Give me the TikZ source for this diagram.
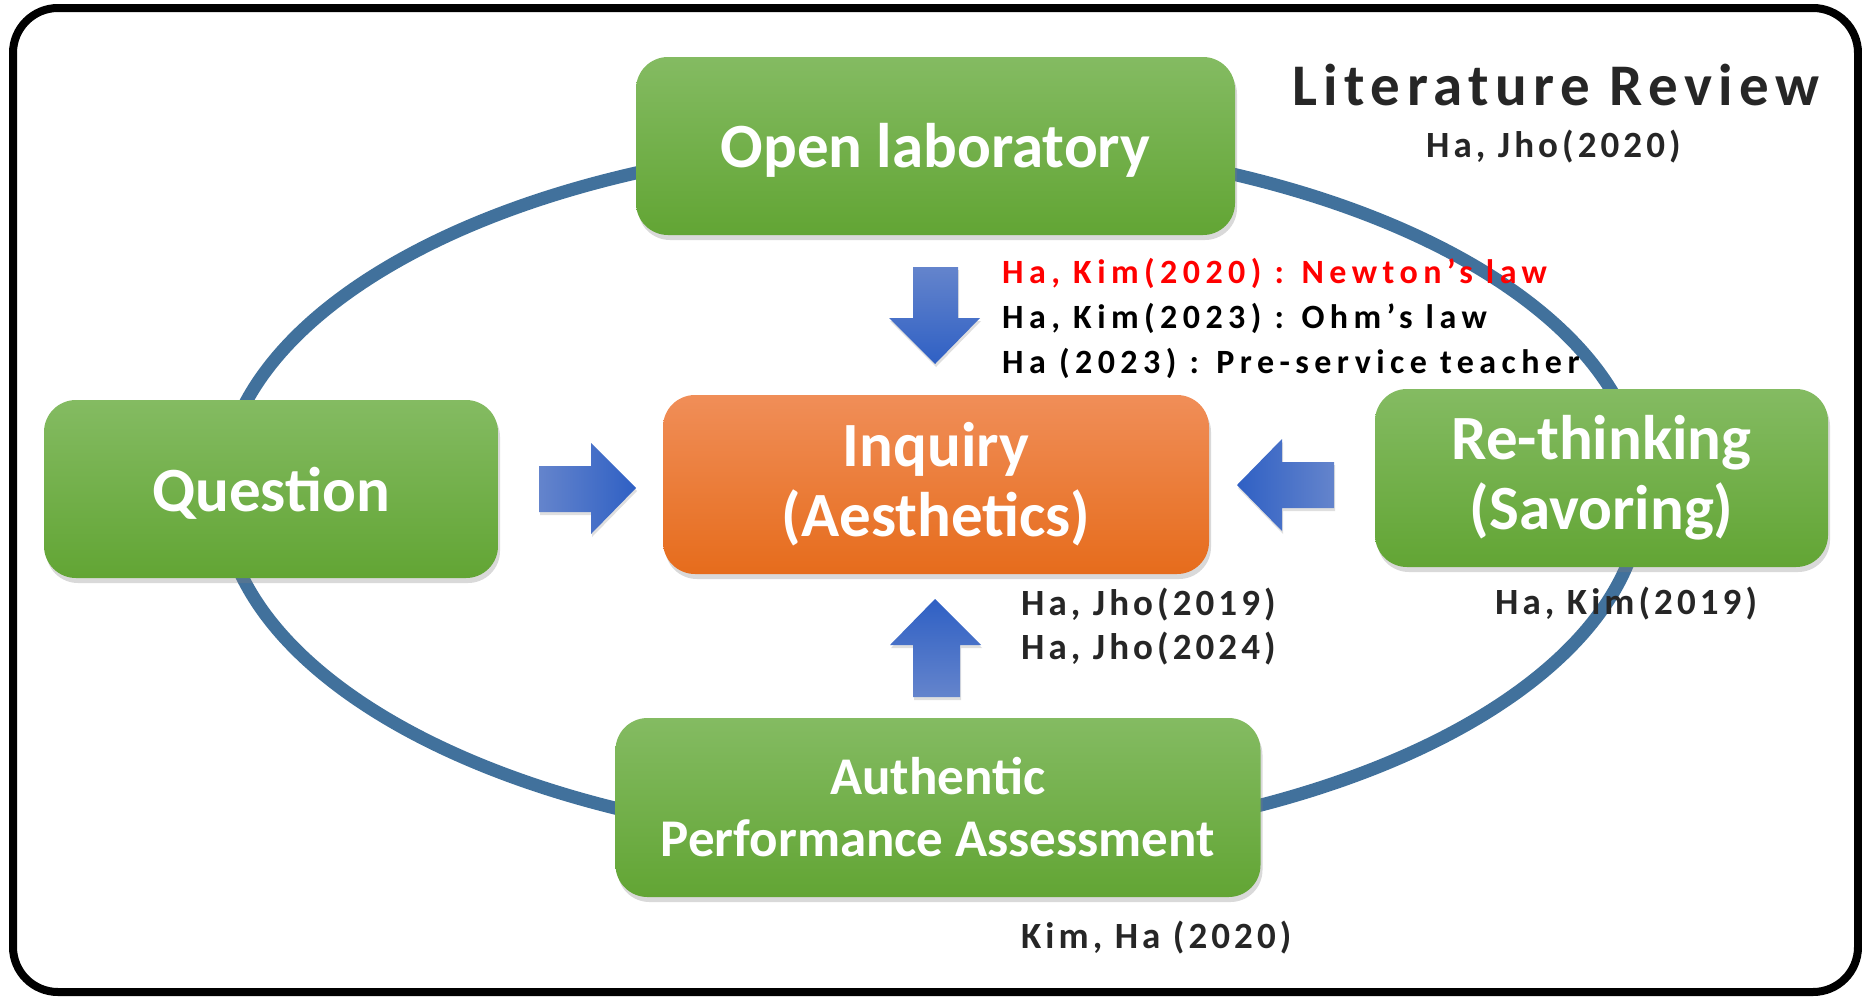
\documentclass[tikz,border=0pt]{standalone}
\usepackage{fontspec}
\setmainfont{Carlito}
\newfontfamily\citefont[LetterSpace=11]{Carlito}
\newfontfamily\listfont[LetterSpace=16]{Carlito}
\usetikzlibrary{shadows}

\definecolor{ringblue}{RGB}{65,113,156}
\definecolor{grntop}{RGB}{132,187,98}
\definecolor{grnbot}{RGB}{98,165,52}
\definecolor{orntop}{RGB}{240,142,88}
\definecolor{ornbot}{RGB}{230,108,28}
\definecolor{arrlight}{RGB}{100,132,204}
\definecolor{arrdark}{RGB}{47,96,196}
\definecolor{citegray}{RGB}{38,38,38}

\begin{document}
\begin{tikzpicture}[x=1pt, y=-1pt,
  box/.style={rounded corners=32pt, text=white, align=center, inner sep=0pt,
    minimum height=178pt, font=\bfseries\fontsize{63pt}{70pt}\selectfont,
    drop shadow={opacity=0.3, shadow xshift=2pt, shadow yshift=-5pt}},
  greenbox/.style={box, top color=grntop, bottom color=grnbot},
  orangebox/.style={box, top color=orntop, bottom color=ornbot},
  cite/.style={anchor=base west, inner sep=0pt, text=citegray, font=\citefont\bfseries\fontsize{37pt}{40pt}\selectfont},
  citelist/.style={anchor=base west, inner sep=0pt, font=\listfont\bfseries\fontsize{34pt}{40pt}\selectfont},
  blockarrow/.style={drop shadow={opacity=0.25, shadow xshift=1pt, shadow yshift=-3pt}}]

\useasboundingbox (0,0) rectangle (1862,996);

% frame and cycle
\draw[line width=8pt, rounded corners=45pt] (13,8) rectangle (1858,992);
\draw[line width=13pt, ringblue] (932,493) ellipse [x radius=710, y radius=352];

% boxes
\node[greenbox, minimum width=599pt, text height=53pt] (open) at (935.5,146) {Open laboratory};
\node[greenbox, minimum width=454pt, text height=53pt] (quest) at (271,489) {Question};
\node[orangebox, minimum width=546pt, minimum height=179pt] (inq) at (936,484.5) {Inquiry\\(Aesthetics)};
\node[greenbox, minimum width=453pt] (rethink) at (1601.5,478) {Re-thinking\\(Savoring)};
\node[greenbox, minimum width=645pt, minimum height=179pt,
  font=\bfseries\fontsize{53pt}{62pt}\selectfont] (auth) at (938,807.5) {Authentic\\Performance Assessment};

% block arrows
\shade[blockarrow, top color=arrlight, bottom color=arrdark]
  (913,267) -- (958,267) -- (958,318) -- (980,318) -- (935,364) -- (889,318) -- (913,318) -- cycle;
\shade[blockarrow, left color=arrlight, right color=arrdark]
  (539,466) -- (591,466) -- (591,443) -- (636,488) -- (591,534) -- (591,512) -- (539,512) -- cycle;
\shade[blockarrow, left color=arrdark, right color=arrlight]
  (1334,462) -- (1282,462) -- (1282,439) -- (1237,485) -- (1282,531) -- (1282,508) -- (1334,508) -- cycle;
\shade[blockarrow, top color=arrdark, bottom color=arrlight]
  (913,697) -- (960,697) -- (960,645) -- (981,645) -- (935,599) -- (890,645) -- (913,645) -- cycle;

% literature
\node[anchor=base west, inner sep=0pt, text=citegray,
  font=\citefont\bfseries\fontsize{59pt}{62pt}\selectfont] (litrev) at (1292,105) {Literature Review};
\node[cite] (c2020) at (1426,157) {Ha, Jho(2020)};
\node[citelist, text=red] (newton) at (1002,283) {Ha, Kim(2020) : Newton’s law};
\node[citelist] (ohm) at (1002,328) {Ha, Kim(2023) : Ohm’s law};
\node[citelist] (preserv) at (1002,373) {Ha (2023) : Pre-service teacher};
\node[cite] (jho19) at (1021,615) {Ha, Jho(2019)};
\node[cite] (jho24) at (1021,659) {Ha, Jho(2024)};
\node[cite] (kim19) at (1495,614) {Ha, Kim(2019)};
\node[cite] (kimha) at (1021,948) {Kim, Ha (2020)};

\end{tikzpicture}
\end{document}
